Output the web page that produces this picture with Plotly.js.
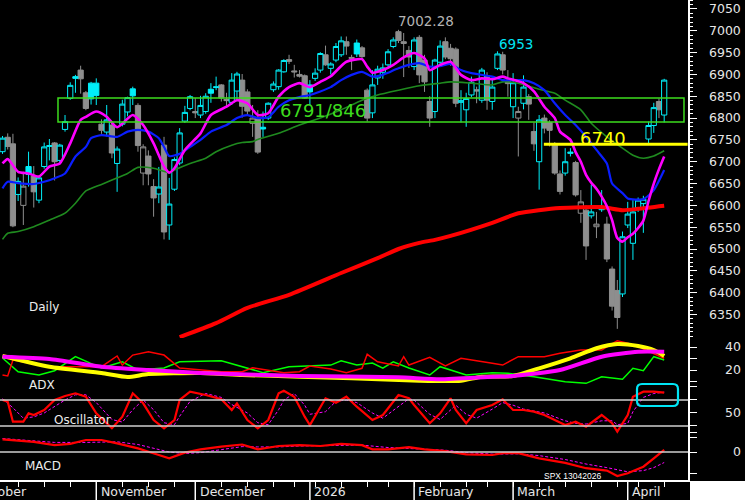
<!DOCTYPE html>
<html><head><meta charset="utf-8">
<script src="https://cdn.plot.ly/plotly-3.0.1.min.js"></script>
<style>html,body{margin:0;padding:0;background:#000;}#wrap{position:relative;width:745px;height:500px;}#chart{width:745px;height:500px;}#corner{position:absolute;left:690px;top:481px;width:55px;height:19px;background:#fff;}</style>
</head><body><div id="wrap"><div id="chart"></div><div id="corner"></div></div>
<script>
// ---------- trading dates (x categories) ----------
const dates = [
"2025-10-08","2025-10-09","2025-10-10","2025-10-13","2025-10-14","2025-10-15","2025-10-16","2025-10-17","2025-10-20","2025-10-21","2025-10-22","2025-10-23","2025-10-24","2025-10-27","2025-10-28","2025-10-29","2025-10-30","2025-10-31",
"2025-11-03","2025-11-04","2025-11-05","2025-11-06","2025-11-07","2025-11-10","2025-11-11","2025-11-12","2025-11-13","2025-11-14","2025-11-17","2025-11-18","2025-11-19","2025-11-20","2025-11-21","2025-11-24","2025-11-25","2025-11-26","2025-11-28",
"2025-12-01","2025-12-02","2025-12-03","2025-12-04","2025-12-05","2025-12-08","2025-12-09","2025-12-10","2025-12-11","2025-12-12","2025-12-15","2025-12-16","2025-12-17","2025-12-18","2025-12-19","2025-12-22","2025-12-23","2025-12-24","2025-12-26","2025-12-29","2025-12-30","2025-12-31",
"2026-01-02","2026-01-05","2026-01-06","2026-01-07","2026-01-08","2026-01-09","2026-01-12","2026-01-13","2026-01-14","2026-01-15","2026-01-16","2026-01-20","2026-01-21","2026-01-22","2026-01-23","2026-01-26","2026-01-27","2026-01-28","2026-01-29","2026-01-30",
"2026-02-02","2026-02-03","2026-02-04","2026-02-05","2026-02-06","2026-02-09","2026-02-10","2026-02-11","2026-02-12","2026-02-13","2026-02-17","2026-02-18","2026-02-19","2026-02-20","2026-02-23","2026-02-24","2026-02-25","2026-02-26","2026-02-27",
"2026-03-02","2026-03-03","2026-03-04","2026-03-05","2026-03-06","2026-03-09","2026-03-10","2026-03-11","2026-03-12","2026-03-13","2026-03-16","2026-03-17","2026-03-18","2026-03-19","2026-03-20","2026-03-23","2026-03-24","2026-03-25","2026-03-26","2026-03-27","2026-03-30","2026-03-31",
"2026-04-01","2026-04-02","2026-04-06","2026-04-07","2026-04-08","2026-04-09","2026-04-10","2026-04-13"];

// ---------- SPX daily OHLC ----------
const openP = [6723,6756,6741,6625,6600,6689,6667,6612,6689,6737,6743,6703,6774,6845,6895,6910,6858,6880,
6880,6786,6768,6784,6696,6786,6814,6867,6829,6674,6713,6643,6626,6738,6555,6637,6697,6793,6822,
6815,6807,6815,6866,6872,6876,6843,6836,6862,6887,6860,6788,6800,6779,6800,6865,6872,6906,6934,6908,6900,6897,
6876,6891,6910,6945,6914,6933,6945,6975,6939,6972,6961,6864,6812,6892,6905,6922,6964,6998,6975,6955,
6918,6985,6933,6838,6815,6928,6975,6960,6958,6836,6819,6853,6865,6841,6897,6838,6914,6945,6884,
6826,6800,6834,6849,6769,6700,6800,6790,6738,6672,6674,6719,6698,6582,6589,6576,6551,6590,6557,6454,6405,6397,
6555,6513,6593,6604,6752,6783,6838,6807];
const highP = [6759,6765,6764,6664,6677,6723,6690,6668,6744,6752,6745,6741,6807,6882,6899,6920,6862,6883,
6891,6797,6830,6790,6735,6842,6849,6872,6834,6740,6726,6660,6688,6757,6663,6710,6777,6828,6853,
6846,6851,6857,6880,6895,6878,6858,6903,6906,6901,6866,6830,6818,6815,6836,6884,6912,6935,6945,6922,6910,6900,
6887,6914,6951,6966,6928,6972,6987,6987,6945,6980,6965,6868,6910,6920,6925,6958,6985,7002.28,6995,6965,
6985,6990,6945,6850,6936,6978,6985,6970,6962,6864,6858,6895,6872,6915,6905,6895,6953,6952,6910,
6903,6826,6898,6855,6790,6807,6808,6795,6745,6680,6731,6731,6702,6635,6600,6647,6585,6635,6574,6460,6429,6540,
6608,6612,6618,6622,6792,6835,6845,6890];
const lowP = [6718,6728,6550,6610,6555,6643,6595,6605,6684,6703,6657,6695,6769,6842,6858,6856,6818,6831,
6830,6764,6758,6708,6631,6781,6804,6830,6723,6646,6646,6574,6605,6522,6521,6633,6692,6789,6818,
6800,6800,6810,6835,6864,6838,6826,6830,6842,6801,6807,6757,6718,6757,6796,6860,6865,6904,6924,6893,6893,6845,
6830,6885,6904,6920,6900,6928,6940,6945,6910,6940,6935,6792,6800,6876,6890,6918,6960,6972,6894,6915,
6910,6880,6860,6780,6800,6920,6935,6920,6825,6790,6780,6848,6834,6835,6819,6819,6910,6900,6849,
6800,6712,6820,6796,6725,6636,6765,6735,6670,6625,6668,6712,6620,6560,6475,6570,6525,6585,6470,6359,6317,6390,
6548,6475,6585,6537,6742,6766,6800,6790];
const closeP = [6754,6735,6553,6655,6644,6671,6631,6663,6734,6735.4,6700,6738,6792,6875,6891,6890,6822,6844,
6852,6772,6796,6720,6729,6832,6847,6851,6737,6734,6672,6617,6642,6539,6603,6705,6766,6813,6849,
6812,6829,6850,6857,6870,6846,6840,6887,6901,6827,6816,6800,6722,6775,6834,6878,6910,6932,6930,6906,6896,6846,
6860,6903,6948,6922,6924,6964,6977,6965,6937,6947,6941,6800,6876,6912,6915,6952,6979,6978,6971,6940,
6979,6899,6883,6800,6933,6965,6940,6936,6834,6840,6845,6882,6862,6910,6841,6871,6947,6910,6879,
6881,6815,6871,6832,6741,6796,6777,6772,6674,6632,6700,6722,6624,6608,6507,6585,6557,6597,6477,6369,6343,6528,
6580,6585,6612,6614,6783,6824,6819,6887];
const prevClose0 = 6714;

// ---------- moving averages (index into dates, value) ----------
const ma10Idx = [0,1,3,5,7,9,11,13,15,16,18,20,22,25,27,29,31,32,33,35,38,40,43,45,47,49,51,53,55,57,59,61,63,66,69,70,71,73,75,77,79,81,82,84,86,88,90,92,94,96,97,100,102,104,106,107,109,110,111,112,113,114,115,116,117,118,119,120,121,122,123,124,125,126,127];
const ma10 = [6696,6706,6677,6673,6666,6689,6696,6742,6796,6803,6815,6803,6779,6807,6784,6742,6689,6675,6685,6727,6765,6807,6826,6841,6834,6807,6811,6849,6871,6880,6871,6883,6896,6929,6935,6918,6904,6910,6922,6939,6949,6937,6910,6922,6929,6899,6887,6891,6889,6895,6891,6880,6861,6826,6800,6769,6750,6722,6700,6670,6652,6638,6620,6598,6566,6525,6517,6527,6535,6548,6565,6610,6650,6683,6712];
const ma20Idx = [0,1,3,6,8,10,12,14,16,17,19,22,24,26,28,30,31,32,34,36,38,40,43,45,47,49,51,53,55,57,59,61,63,65,67,69,71,73,74,76,78,80,82,84,86,88,90,94,96,98,100,102,104,106,108,110,112,114,116,117,119,120,123,125,127];
const ma20 = [6639,6654,6651,6649,6654,6662,6673,6712,6734,6754,6761,6757,6769,6773,6769,6754,6734,6713,6718,6734,6750,6769,6784,6800,6807,6800,6802,6826,6841,6848,6853,6861,6871,6887,6899,6906,6895,6899,6904,6914,6922,6926,6918,6919,6924,6910,6903,6895,6887,6887,6887,6880,6864,6834,6807,6784,6757,6727,6696,6650,6628,6616,6614,6635,6681];
const ma50Idx = [0,1,3,6,9,12,14,16,19,21,24,26,29,32,33,36,39,41,44,46,48,49,53,57,61,65,69,72,76,80,84,86,90,94,96,99,103,106,108,111,113,116,119,121,123,125,127];
const ma50 = [6522,6536,6540,6551,6566,6582,6605,6633,6648,6658,6673,6687,6685,6675,6681,6696,6708,6723,6738,6744,6746,6751,6765,6784,6800,6819,6841,6853,6864,6874,6880,6883,6880,6876,6883,6880,6866,6857,6841,6819,6788,6757,6731,6715,6708,6713,6725];
const ma200Idx = [34,41,47,55,65,72,76,80,83,86,94,99,107,115,119,122,127];
const ma200 = [6298,6330,6365,6395,6445,6479,6500,6514,6521,6530,6560,6582,6594,6596,6589,6592,6599];

// ---------- ADX panel ----------
const adxIdx = [0,9,19,24,28,38,46,57,67,80,88,92,98,103,109,114,118,122,125,127];
const adx = [32.2,22.9,17.4,13.9,16.5,17.4,15.7,14.2,12.8,10.7,10.7,14.2,14.8,21.5,30.2,38.9,42.6,40.9,37.4,32.2];
const adxrIdx = [0,9,19,28,38,47,57,76,84,94,98,107,115,122,127];
const adxr = [31.6,29.6,22.9,20,17.4,16.1,14.8,13.7,11.9,14.2,14.8,20,31.6,35.9,35.9];
const pdiIdx = [0,3,7,10,14,19,23,26,31,34,42,47,50,55,59,63,65,68,71,73,75,78,82,84,89,94,97,102,108,112,115,119,121,123,125,127];
const pdi = [30.4,18.5,15.7,19.4,31.6,21.7,27.2,20,21.7,27.2,28.1,21.7,17.7,22.9,23.5,24.3,28.1,24.3,26.1,21.7,27.2,21.7,15.7,22.9,15.7,17.7,17.1,14.2,9.8,8.4,14.2,11.9,21.5,19.4,31.6,28.7];
const mdiIdx = [0,1,2,9,19,22,23,25,28,31,34,42,46,48,54,57,59,63,66,69,70,72,76,77,78,82,85,88,94,96,99,104,107,111,115,118,120,122,127];
const mdi = [15.7,14.8,28.7,22.9,22.9,32.2,24.3,33,35.9,33,21.7,18.5,18.5,22,17.7,18.5,23.5,20.9,17.7,21.5,33.7,27.2,23.5,31.6,24.3,31,23.5,30.2,25.8,24.3,31.6,31.6,34.5,37.4,37.4,45.5,43.2,40.3,30.2];

// ---------- Oscillator ----------
const oscIdx = [0,1,2,4,5,6,8,10,12,14,16,18,21,23,25,27,29,31,33,34,36,39,42,44,45,47,49,51,53,54,56,58,59,62,64,66,68,71,73,76,78,79,82,84,86,87,89,91,94,96,98,100,102,104,108,110,112,115,117,118,120,121,123,125,127];
const osc = [70,67.4,36.6,36.6,49.5,46.9,54.6,70,76.2,80.3,75.1,49.5,26.5,44.3,80.3,64.9,39.2,26.5,39.2,70,82.8,77.7,71.1,54.6,64.9,39.2,26.5,39.2,80.3,84.3,75.1,44.3,31.5,72.6,65.8,75.1,59.7,39.2,46.9,77.7,72.6,62.3,34.2,49.5,72.6,54.6,34.2,54.6,62.3,71.1,54.6,54.6,52,46.9,31.5,36.6,28.9,46.9,34.2,21.2,46.9,75.1,82.8,82.8,81.2];
const oscSigIdx = [0,2,4,6,8,10,12,14,16,18,21,23,25,27,29,31,33,34,36,39,42,44,47,49,51,53,54,56,58,59,62,64,66,68,71,73,76,78,79,82,84,86,87,89,91,94,96,98,100,102,104,108,110,112,115,117,118,120,121,123,125,127];
const oscSig = [72,58,42,44,50,60,70,78,78,66,40,36,55,70,55,35,32,45,68,80,74,63,50,35,32,55,70,80,62,48,52,68,70,66,50,42,60,72,70,48,40,55,62,48,42,56,66,62,56,53,50,38,34,33,38,38,32,34,52,74,80,82];

// ---------- MACD ----------
const macdIdx = [0,6,10,13,16,19,22,26,30,32,35,38,42,46,49,53,57,61,65,69,71,74,78,81,85,89,94,96,99,103,108,112,116,118,120,123,125,127];
const macd = [42,34,23,27,40,40,29,12,-10,-21,-2,9,18,25,9,20,23,20,27,23,9,9,16,9,3,-8,-10,-4,-4,-21,-36,-54,-62,-80,-71,-49,-21,7];
const macdSigIdx = [0,10,16,22,26,30,32,35,38,42,46,49,53,57,61,65,69,74,78,81,85,89,94,99,103,108,112,116,118,120,123,125,127];
const macdSig = [45,32,32,34,25,8,0,-5,-2,8,18,17,17,20,21,22,23,15,12,11,6,-2,-7,-6,-12,-25,-40,-52,-60,-66,-62,-52,-35];

// ---------- levels & labels ----------
const zoneLow = 6791, zoneHigh = 6846, level6740 = 6740;
const highLabel = "7002.28", peakLabel = "6953";
const monthNames = ["January","February","March","April","May","June","July","August","September","October","November","December"];
const priceTicks = [6350,6400,6450,6500,6550,6600,6650,6700,6750,6800,6850,6900,6950,7000,7050];

// ---------- build ----------
const CYAN = '#00eef8', GRAY = '#8e8e8e';
const cy = {x:[],o:[],h:[],l:[],c:[]}, gr = {x:[],o:[],h:[],l:[],c:[]};
closeP.forEach((c,i)=>{
  const pc = i ? closeP[i-1] : prevClose0;
  const t = c >= pc ? cy : gr;
  t.x.push(i); t.o.push(openP[i]); t.h.push(highP[i]); t.l.push(lowP[i]); t.c.push(c);
});
function candle(s, col){
  return {type:'candlestick', x:s.x, open:s.o, high:s.h, low:s.l, close:s.c, xaxis:'x', yaxis:'y',
    increasing:{line:{color:col,width:1}, fillcolor:'#000000'},
    decreasing:{line:{color:col,width:1}, fillcolor:col},
    whiskerwidth:0, hoverinfo:'skip', showlegend:false};
}
function line(xs, ys, ax, color, width, extra){
  return Object.assign({type:'scatter', mode:'lines', x:xs, y:ys, xaxis:'x', yaxis:ax,
    line:Object.assign({color:color, width:width}, extra||{}), hoverinfo:'skip', showlegend:false});
}
const sp = {shape:'spline', smoothing:0.6};
const traces = [
  candle(gr, GRAY), candle(cy, CYAN),
  line(ma200Idx, ma200, 'y', '#ff0000', 4, sp),
  line(ma50Idx, ma50, 'y', '#1f8a1f', 1.6, sp),
  line(ma20Idx, ma20, 'y', '#0a1eff', 2.2, sp),
  line(ma10Idx, ma10, 'y', '#ff00ff', 2.6, sp),
  line(pdiIdx, pdi, 'y2', '#00ff00', 1.5),
  line(mdiIdx, mdi, 'y2', '#ff0000', 1.5),
  line(adxIdx, adx, 'y2', '#ffff00', 4, sp),
  line(adxrIdx, adxr, 'y2', '#ff00ff', 4, sp),
  line(oscSigIdx, oscSig, 'y3', '#ff00ff', 1, {dash:'3px,2px'}),
  line(oscIdx, osc, 'y3', '#ff0000', 2.2),
  line(macdSigIdx, macdSig, 'y4', '#ff00ff', 1, {dash:'3px,2px'}),
  line(macdIdx, macd, 'y4', '#ff0000', 2.2)
];

// week / month boundaries from the dates
const dObj = dates.map(s=>new Date(s+'T00:00:00Z'));
const weekStarts = [], monthStarts = [];
dObj.forEach((d,i)=>{
  if(i===0) return;
  const p = dObj[i-1];
  if(d.getUTCDay() < p.getUTCDay() || (d-p) >= 7*864e5) weekStarts.push(i);
  if(d.getUTCMonth() !== p.getUTCMonth()) monthStarts.push(i);
});

const XR = [-0.48, 131.57], PW = 688, PH = 480;
const tickFont = {family:'DejaVu Sans', size:12.5, color:'#e6e6e6'};
const labelFont = {family:'DejaVu Sans', size:12, color:'#ececec'};

const shapes = [
  {type:'rect', xref:'x', yref:'y', x0:10.65, x1:130.8, y0:zoneLow, y1:zoneHigh, line:{color:'#3ddc1e', width:1.5}},
  {type:'line', xref:'x', yref:'y', x0:103.9, x1:131.5, y0:level6740, y1:level6740, line:{color:'#ffff00', width:3}},
  {type:'line', xref:'paper', yref:'y3', x0:0, x1:1, y0:70, y1:70, line:{color:'#cfcfcf', width:1.5}},
  {type:'line', xref:'paper', yref:'y3', x0:0, x1:1, y0:30, y1:30, line:{color:'#cfcfcf', width:1.5}},
  {type:'line', xref:'paper', yref:'y4', x0:0, x1:1, y0:0, y1:0, line:{color:'#cfcfcf', width:1.5}}
];
monthStarts.forEach(i=>{
  shapes.push({type:'line', xref:'x', yref:'paper', x0:i, x1:i, y0:0, y1:-0.06, line:{color:'#ffffff', width:1.5}});
});
// rounded cyan box in oscillator panel
(function(){
  const x0=637/PW, x1=678/PW, yt=(PH-384)/PH, yb=(PH-406)/PH, rx=5/PW, ry=5/PH;
  const path = `M ${x0+rx},${yt} L ${x1-rx},${yt} Q ${x1},${yt} ${x1},${yt-ry} L ${x1},${yb+ry} Q ${x1},${yb} ${x1-rx},${yb} L ${x0+rx},${yb} Q ${x0},${yb} ${x0},${yb+ry} L ${x0},${yt-ry} Q ${x0},${yt} ${x0+rx},${yt} Z`;
  shapes.push({type:'path', xref:'paper', yref:'paper', path:path, line:{color:'#00e5f5', width:2.2}});
})();

const A = (o)=>Object.assign({showarrow:false, yanchor:'middle'}, o);
const annotations = [
  A({xref:'x', yref:'y', x:61.5, y:6818, text:'6791/846', font:{family:'DejaVu Sans', size:18, color:'#3ddc1e'}}),
  A({xref:'x', yref:'y', x:115.3, y:6753, text:'6740', font:{family:'DejaVu Sans', size:18, color:'#ffff00'}}),
  A({xref:'x', yref:'y', x:81.3, y:7023, text:highLabel, font:{family:'DejaVu Sans', size:13.5, color:'#b4b4b4'}}),
  A({xref:'x', yref:'y', x:98.5, y:6970, text:peakLabel, font:{family:'DejaVu Sans', size:13.5, color:'#00e5f5'}}),
  A({xref:'paper', yref:'paper', x:27/PW, y:(PH-307)/PH, xanchor:'left', text:'Daily', font:labelFont}),
  A({xref:'paper', yref:'paper', x:27/PW, y:(PH-385)/PH, xanchor:'left', text:'ADX', font:labelFont}),
  A({xref:'paper', yref:'paper', x:52/PW, y:(PH-420)/PH, xanchor:'left', text:'Oscillator', font:labelFont}),
  A({xref:'paper', yref:'paper', x:23/PW, y:(PH-465.5)/PH, xanchor:'left', text:'MACD', font:labelFont}),
  A({xref:'paper', yref:'paper', x:542/PW, y:(PH-476)/PH, xanchor:'left', text:'SPX 13042026', font:{family:'Liberation Sans', size:8.5, color:'#ffffff'}}),
  // October label: its month began before the first candle, so only its tail is in view
  A({xref:'paper', yref:'paper', x:29/PW, y:(PH-492)/PH, xanchor:'right', text:'October', font:tickFont})
];
monthStarts.forEach(i=>{
  const m = dObj[i].getUTCMonth();
  const txt = m===0 ? String(dObj[i].getUTCFullYear()) : monthNames[m];
  annotations.push(A({xref:'x', yref:'paper', x:i+0.45, y:(PH-492)/PH, xanchor:'left', text:txt, font:tickFont}));
});

const yBase = {showgrid:false, zeroline:false, showline:true, linecolor:'#ffffff', linewidth:1.5,
  ticks:'outside', tickcolor:'#ffffff', tickwidth:1, ticklen:7, tickfont:tickFont,
  side:'right', anchor:'x', fixedrange:true};

const layout = {
  width:745, height:500, margin:{l:0, r:57, t:0, b:20},
  paper_bgcolor:'#000000', plot_bgcolor:'rgba(0,0,0,0)',
  showlegend:false, boxgap:0.0, boxgroupgap:0,
  xaxis:{range:XR, anchor:'y4', showgrid:false, zeroline:false, showline:true, linecolor:'#ffffff', linewidth:1.5,
    tickmode:'array', tickvals:weekStarts, ticks:'outside', ticklen:5, tickcolor:'#ffffff', showticklabels:false,
    rangeslider:{visible:false}, fixedrange:true},
  yaxis:Object.assign({}, yBase, {domain:[0.2958,1], range:[6296,7070.6], tickmode:'array', tickvals:priceTicks,
    minor:{ticks:'outside', ticklen:3, tickcolor:'#ffffff', dtick:10, tick0:6350}, ticklabelstandoff:10}),
  yaxis2:Object.assign({}, yBase, {domain:[0.1708,0.2958], range:[-4.35,47.83], tickmode:'array',
    tickvals:[10,20,30,40], ticktext:['','20','','40'], ticklabelstandoff:26}),
  yaxis3:Object.assign({}, yBase, {domain:[0.0719,0.2073], range:[0,100], tickmode:'array',
    tickvals:[20,30,50,70,90], ticktext:['','','50','',''], ticklabelstandoff:26}),
  yaxis4:Object.assign({}, yBase, {domain:[0,0.1083], range:[-93.3,80], tickmode:'array',
    tickvals:[-70,0,47], ticktext:['','0',''], ticklabelstandoff:34}),
  shapes:shapes, annotations:annotations
};
Plotly.newPlot('chart', traces, layout, {staticPlot:true});
</script></body></html>
